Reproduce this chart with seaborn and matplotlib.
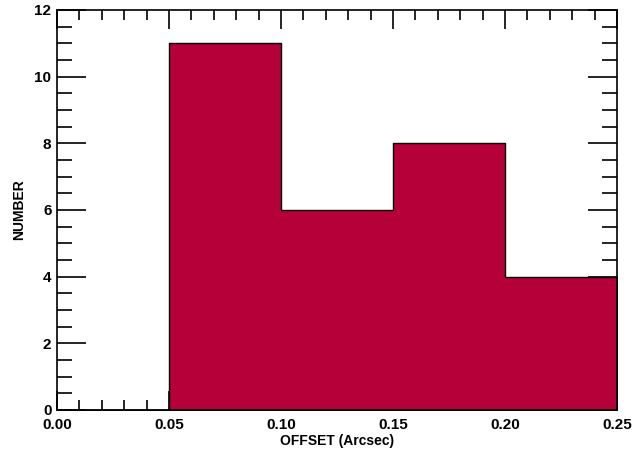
import numpy as np
import pandas as pd
import matplotlib
matplotlib.use("Agg")
import matplotlib.pyplot as plt
import seaborn as sns
from matplotlib.ticker import MultipleLocator

# bin edges and counts
binEdges = [0.00, 0.05, 0.10, 0.15, 0.20, 0.25]
binCenters = [0.025, 0.075, 0.125, 0.175, 0.225]
counts = [0, 11, 6, 8, 4]

df = pd.DataFrame({"offset": binCenters, "number": counts})

sns.set_style("ticks")
plt.rcParams["font.family"] = ["Liberation Sans", "DejaVu Sans"]
plt.rcParams["font.weight"] = "bold"

fig = plt.figure(figsize=(6.36, 4.53), dpi=100)
ax = fig.add_axes([0.0896, 0.095, 0.8805, 0.883])

sns.histplot(data=df, x="offset", weights="number", bins=binEdges,
             element="step", fill=True, color="#B5003A", alpha=1.0,
             edgecolor="black", linewidth=1.0, ax=ax)

ax.set_xlim(0.0, 0.25)
ax.set_ylim(0, 12)
ax.xaxis.set_major_locator(MultipleLocator(0.05))
ax.xaxis.set_minor_locator(MultipleLocator(0.01))
ax.yaxis.set_major_locator(MultipleLocator(2))
ax.yaxis.set_minor_locator(MultipleLocator(0.5))
ax.set_xticklabels([f"{v:.2f}" for v in ax.get_xticks()])

ax.tick_params(which="both", direction="in", top=True, right=True, colors="black",
               labelsize=11, width=1.2)
ax.tick_params(axis="x", which="major", length=14, pad=6)
ax.tick_params(axis="x", which="minor", length=7.5)
ax.tick_params(axis="y", which="major", length=21, pad=4)
ax.tick_params(axis="y", which="minor", length=10.5)

for s in ax.spines.values():
    s.set_linewidth(1.2)
    s.set_color("black")

ax.set_xlabel("OFFSET (Arcsec)", fontsize=10, fontweight="bold", color="black", labelpad=1)
ax.set_ylabel("NUMBER", fontsize=10, fontweight="bold", color="black", labelpad=6)

fig.savefig("out.png", dpi=100)
